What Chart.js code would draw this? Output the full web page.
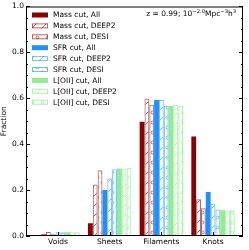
<!DOCTYPE html>
<html>
<head>
<meta charset="utf-8">
<script src="https://cdn.jsdelivr.net/npm/chart.js@4"></script>
<style>
  html, body { margin: 0; padding: 0; background: #fff; }
  canvas { display: block; }
</style>
</head>
<body>
<canvas id="chart" width="249" height="250"></canvas>
<script>
// environment categories and fractions
const categories = ['Voids', 'Sheets', 'Filaments', 'Knots'];

const massAll   = [0.002, 0.056, 0.498, 0.434];
const massDeep2 = [0.009, 0.224, 0.599, 0.160];
const massDesi  = [0.017, 0.287, 0.572, 0.121];
const sfrAll    = [0.006, 0.200, 0.593, 0.192];
const sfrDeep2  = [0.016, 0.251, 0.593, 0.141];
const sfrDesi   = [0.016, 0.291, 0.567, 0.115];
const oiiAll    = [0.016, 0.294, 0.567, 0.112];
const oiiDeep2  = [0.016, 0.294, 0.571, 0.112];
const oiiDesi   = [0.016, 0.297, 0.567, 0.112];

const yTickValues = [0, 0.2, 0.4, 0.6, 0.8, 1.0];
const annotation = [
    ['z = 0.99; 10', false], ['\u22122.0', true], ['Mpc', false],
    ['\u22123', true], ['h', false], ['3', true]
];

const FONT = 'DejaVu Sans';

function hatch(color, kind) {
    const c = document.createElement('canvas');
    c.width = 10; c.height = 10;
    const g = c.getContext('2d');
    g.strokeStyle = color;
    g.lineWidth = 1;
    if (kind === '/') {
        g.beginPath();
        g.moveTo(-1, 11); g.lineTo(11, -1);
        g.moveTo(-6, 6); g.lineTo(6, -6);
        g.moveTo(4, 16); g.lineTo(16, 4);
        g.stroke();
    } else {
        g.lineWidth = 0.9;
        [[2.5, 2.5], [7.5, 7.5]].forEach(([x, y]) => {
            g.beginPath();
            g.arc(x, y, 1.4, 0, Math.PI * 2);
            g.stroke();
        });
    }
    return g.createPattern(c, 'repeat');
}

function solid(label, data, color) {
    return { label, data: data.map((y, i) => ({ x: i, y })), backgroundColor: color,
             borderColor: color, borderWidth: 0, _kind: 'solid' };
}
function hatched(label, data, color, kind) {
    return { label, data: data.map((y, i) => ({ x: i, y })), backgroundColor: hatch(color, kind),
             borderColor: color, borderWidth: 1, borderSkipped: false, _kind: kind };
}

const redH = 'rgba(139,0,0,0.6)';
const blueH = 'rgba(30,144,255,0.6)';
const greenH = 'rgba(144,238,144,0.75)';

const datasets = [
    solid('Mass cut, All', massAll, '#8b0000'),
    hatched('Mass cut, DEEP2', massDeep2, redH, '/'),
    hatched('Mass cut, DESI', massDesi, redH, 'o'),
    solid('SFR cut, All', sfrAll, '#1e90ff'),
    hatched('SFR cut, DEEP2', sfrDeep2, blueH, '/'),
    hatched('SFR cut, DESI', sfrDesi, blueH, 'o'),
    solid('L[OII] cut, All', oiiAll, '#90ee90'),
    hatched('L[OII] cut, DEEP2', oiiDeep2, greenH, '/'),
    hatched('L[OII] cut, DESI', oiiDesi, greenH, 'o')
];

// frame, inward ticks, legend inside the axes and the z annotation
const decorations = {
    id: 'decorations',
    afterDraw(chart) {
        const { ctx, chartArea: a, scales: { x, y } } = chart;
        ctx.save();
        ctx.strokeStyle = '#000';
        ctx.lineWidth = 1;
        ctx.strokeRect(a.left + 0.5, a.top + 0.5, a.right - a.left - 1, a.bottom - a.top - 1);

        ctx.beginPath();
        for (let v = 0; v <= 1.0001; v += 0.05) {
            const py = Math.round(y.getPixelForValue(v)) + 0.5;
            const major = Math.abs(v / 0.2 - Math.round(v / 0.2)) < 1e-6;
            const len = major ? 4 : 2;
            ctx.moveTo(a.left, py); ctx.lineTo(a.left + len, py);
            ctx.moveTo(a.right, py); ctx.lineTo(a.right - len, py);
        }
        categories.forEach((c, i) => {
            const px = Math.round(x.getPixelForValue(i)) + 0.5;
            ctx.moveTo(px, a.bottom); ctx.lineTo(px, a.bottom - 4);
        });
        ctx.stroke();

        // legend
        ctx.font = '7.5px "' + FONT + '"';
        ctx.textBaseline = 'middle';
        chart.data.datasets.forEach((ds, i) => {
            const cy = 15 + i * 10.9;
            const bx = 32, bw = 16, bh = 5;
            ctx.fillStyle = ds.backgroundColor;
            ctx.fillRect(bx, cy - bh / 2, bw, bh);
            if (ds._kind !== 'solid') {
                ctx.strokeStyle = ds.borderColor;
                ctx.strokeRect(bx + 0.5, cy - bh / 2 + 0.5, bw - 1, bh - 1);
            }
            ctx.fillStyle = '#000';
            ctx.fillText(ds.label, 53, cy + 0.5);
        });

        // annotation
        const big = '7.5px "' + FONT + '"', small = '5.2px "' + FONT + '"';
        ctx.textBaseline = 'alphabetic';
        let total = 0;
        annotation.forEach(([t, sup]) => { ctx.font = sup ? small : big; total += ctx.measureText(t).width; });
        let px = 236 - total;
        annotation.forEach(([t, sup]) => {
            ctx.font = sup ? small : big;
            ctx.fillText(t, px, sup ? 12.5 : 16);
            px += ctx.measureText(t).width;
        });
        ctx.restore();
    }
};

new Chart(document.getElementById('chart'), {
    type: 'bar',
    data: { datasets },
    options: {
        responsive: false,
        animation: false,
        events: [],
        datasets: { bar: { categoryPercentage: 0.84, barPercentage: 1.0 } },
        layout: { padding: { top: 5, right: 6, left: 0, bottom: 0 } },
        plugins: { legend: { display: false }, tooltip: { enabled: false } },
        scales: {
            x: {
                type: 'linear',
                offset: false,
                min: -0.62,
                max: 3.58,
                afterBuildTicks: (s) => { s.ticks = categories.map((c, i) => ({ value: i })); },
                afterFit: (s) => { s.height = 14; },
                ticks: {
                    autoSkip: false, maxRotation: 0, padding: 2, color: '#000',
                    font: { family: FONT, size: 7.5 },
                    callback: (v) => categories[v]
                },
                grid: { display: false, drawTicks: false, offset: false },
                border: { display: false }
            },
            y: {
                min: 0,
                max: 1,
                afterBuildTicks: (s) => { s.ticks = yTickValues.map(v => ({ value: v })); },
                afterFit: (s) => { s.width = 26; },
                ticks: {
                    padding: 2, color: '#000',
                    font: { family: FONT, size: 7.5 },
                    callback: (v) => v.toFixed(1)
                },
                title: { display: true, text: 'Fraction', color: '#000', padding: 0,
                         font: { family: FONT, size: 7.5 } },
                grid: { display: false, drawTicks: false },
                border: { display: false }
            }
        }
    },
    plugins: [decorations]
});
</script>
</body>
</html>
